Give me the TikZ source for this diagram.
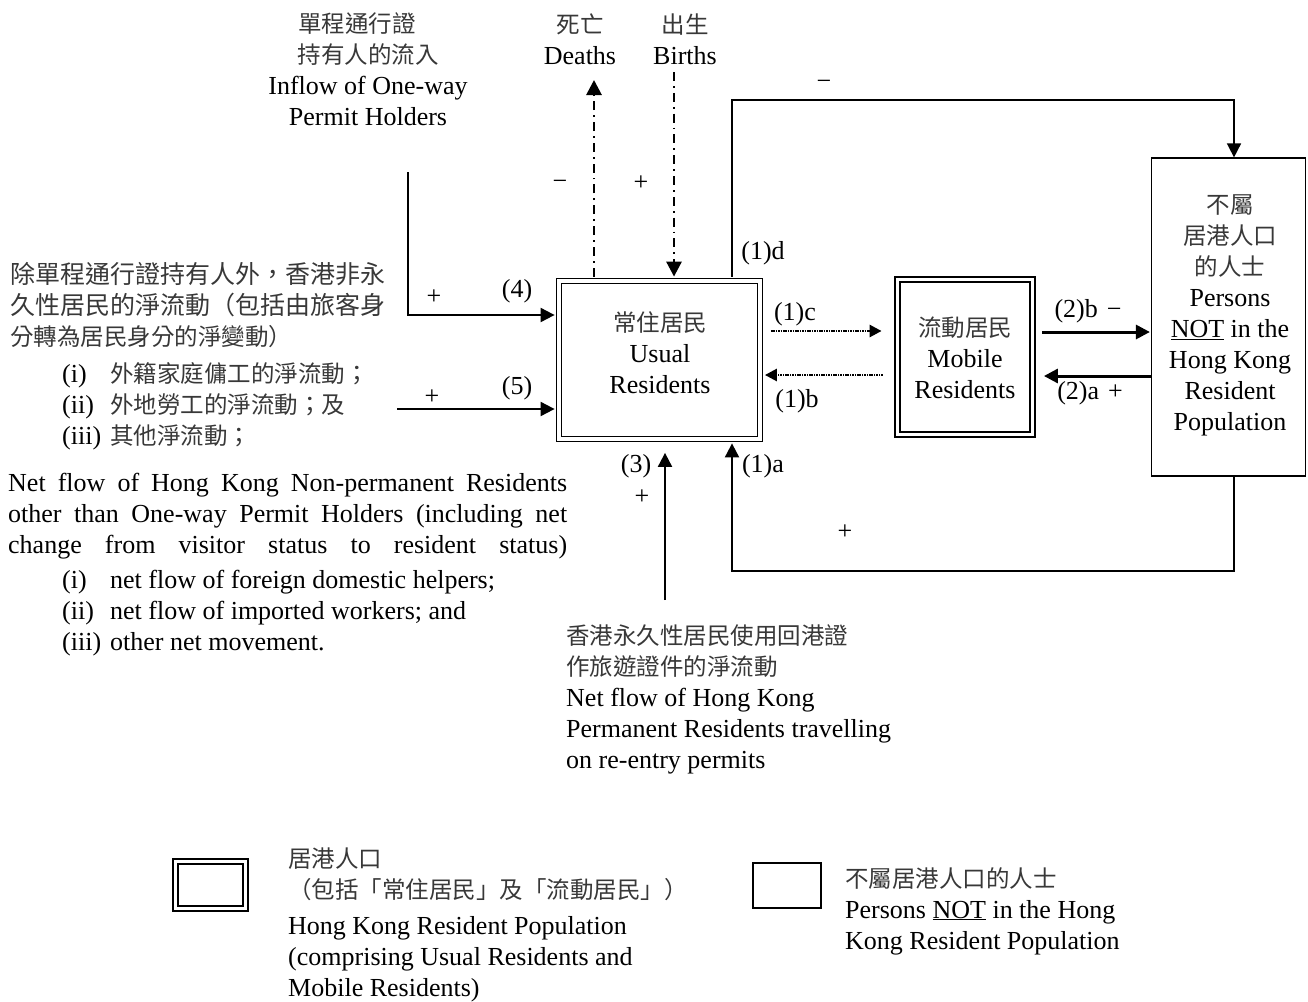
\documentclass[tikz,border=0pt]{standalone}
\usepackage{fontspec}
\setmainfont{Liberation Serif}
\newfontfamily\cjk{Noto Sans CJK TC}
\usetikzlibrary{arrows.meta}
\newcommand\zh[1]{{\cjk\color{black!78}\fontsize{23.5}{31}\selectfont #1}}
\newcommand\zhw[1]{{\cjk\color{black!78}\fontsize{25}{31}\selectfont #1}}
\begin{document}
\begin{tikzpicture}[x=1pt,y=-1pt,
  txt/.style={font=\fontsize{26}{31}\selectfont, inner sep=0pt},
  dbox/.style={draw, double, double distance=3.2pt, line width=1.8pt, inner sep=0pt},
  sbox/.style={draw, line width=1.2pt, inner sep=0pt},
  tip/.style={-{Triangle[length=14pt,width=14pt]}},
  arr/.style={tip, line width=2pt},
  thickarr/.style={tip, line width=3pt},
  dotarr/.style={-{Triangle[length=12pt,width=12pt]}, line width=2.6pt, dash pattern=on 1.6pt off 0.8pt},
  dasharr/.style={-{Triangle[length=15pt,width=15pt]}, line width=2.8pt, dash pattern=on 9pt off 5pt on 1.8pt off 5pt},
  sign/.style={font=\fontsize{26}{26}\selectfont, inner sep=0pt}]
\useasboundingbox (0,0) rectangle (1308,1001);

% main boxes
\node[dbox, minimum width=201pt, minimum height=158pt] (ur) at (659.5,360) {};
\node[dbox, minimum width=135pt, minimum height=155pt] (mr) at (965,357) {};
\node[sbox, minimum width=154pt, minimum height=318pt] (nr) at (1228.5,317) {};

\node[txt, align=center] (urt) at (660,353) {\zh{常住居民}\\Usual\\Residents};
\node[txt, align=center] (mrt) at (965,358) {\zh{流動居民}\\Mobile\\Residents};
\node[txt, align=center] (nrt) at (1230,315) {\zh{不屬}\\ \zh{居港人口}\\ \zh{的人士}\\Persons\\\underline{NOT} in the\\Hong Kong\\Resident\\Population};

% top texts (anchor base = baseline of last line)
\node[txt, align=center, anchor=base] (opw) at (368,125) {\zh{單程通行證}\hspace*{22pt}\\ \zh{持有人的流入}\\ Inflow of One-way\\ Permit Holders};
\node[txt, align=center, anchor=base] (dth) at (580,64) {\zh{死亡}\\Deaths};
\node[txt, align=center, anchor=base] (bth) at (685,64) {\zh{出生}\\Births};

% left texts
\node[txt, align=left, anchor=base west] (nprz) at (10,444) {\zhw{除單程通行證持有人外，香港非永}\\
  \zhw{久性居民的淨流動（包括由旅客身}\\
  \zh{分轉為居民身分的淨變動）}\\[6pt]
  \hspace*{52pt}\makebox[48pt][l]{(i)}\zh{外籍家庭傭工的淨流動；}\\
  \hspace*{52pt}\makebox[48pt][l]{(ii)}\zh{外地勞工的淨流動；及}\\
  \hspace*{52pt}\makebox[48pt][l]{(iii)}\zh{其他淨流動；}};
\node[txt, align=left, anchor=base west] (npre) at (8,650) {\makebox[559pt][s]{Net flow of Hong Kong Non-permanent Residents}\\
  \makebox[559pt][s]{other than One-way Permit Holders (including net}\\
  \makebox[559pt][s]{change from visitor status to resident status)}\\[4pt]
  \hspace*{54pt}\makebox[48pt][l]{(i)}net flow of foreign domestic helpers;\\
  \hspace*{54pt}\makebox[48pt][l]{(ii)}net flow of imported workers; and\\
  \hspace*{54pt}\makebox[48pt][l]{(iii)}other net movement.};

% bottom middle text
\node[txt, align=left, anchor=base west] (pre) at (566,768) {\zh{香港永久性居民使用回港證}\\ \zh{作旅遊證件的淨流動}\\ Net flow of Hong Kong\\ Permanent Residents travelling\\ on re-entry permits};

% coordinates
\coordinate (c4) at (408,172);
\coordinate (c4b) at (408,315);
\coordinate (c5) at (397,409);
\coordinate (c3) at (665,600);
\coordinate (dx) at (594,80);
\coordinate (bx) at (674,72);
\coordinate (lx) at (732,100);
\coordinate (rx) at (1234,100);
\coordinate (lb) at (732,571);
\coordinate (rb) at (1234,571);
\coordinate (yc) at (0,331);
\coordinate (yb) at (0,375);
\coordinate (y2b) at (0,332);
\coordinate (y2a) at (0,376);

% connectors
\draw[arr] (c4) -- (c4b) -- ([xshift=-3.5pt]ur.west |- c4b);
\draw[arr] (c5) -- ([xshift=-3.5pt]ur.west |- c5);
\draw[arr] (c3) -- ([yshift=-13pt]c3 |- ur.south);
\draw[dasharr] ([yshift=3.5pt]dx |- ur.north) -- (dx);
\draw[dasharr] (bx) -- ([yshift=3.5pt]bx |- ur.north);
\draw[line width=1.6pt, tip] ([yshift=3.5pt]lx |- ur.north) -- (lx) -- (rx) -- (rx |- nr.north);
\draw[arr] (rx |- nr.south) -- (rb) -- (lb) -- ([yshift=-3.5pt]lb |- ur.south);
\draw[dotarr] ([xshift=10pt]ur.east |- yc) -- ([xshift=-15pt]mr.west |- yc);
\draw[dotarr] ([xshift=-14pt]mr.west |- yb) -- ([xshift=4pt]ur.east |- yb);
\draw[thickarr] ([xshift=9pt]mr.east |- y2b) -- ([xshift=-1pt]nr.west |- y2b);
\draw[thickarr] (nr.west |- y2a) -- ([xshift=10.5pt]mr.east |- y2a);

% labels
\node[txt] (l4) at (517,291) {(4)};
\node[sign] (p4) at (434,297) {+};
\node[txt] (l5) at (517,388) {(5)};
\node[sign] (p5) at (432,397) {+};
\node[txt] (l1d) at (763,253) {(1)d};
\node[txt] (l1c) at (795,314) {(1)c};
\node[txt] (l1b) at (797,401) {(1)b};
\node[txt] (l1a) at (763,466) {(1)a};
\node[txt] (l3) at (636,466) {(3)};
\node[sign] (p3) at (642,497) {+};
\node[txt] (l2b) at (1088,311) {(2)b\hspace{9pt}−};
\node[txt] (l2a) at (1090,393) {(2)a\hspace{9pt}+};
\node[sign] (mtop) at (824,85) {−};
\node[sign] (pbot) at (845,532) {+};
\node[sign] (mdth) at (560,185) {−};
\node[sign] (pbth) at (641,183) {+};

% legend
\node[dbox, minimum width=70pt, minimum height=47pt] (lg1) at (210.5,885) {};
\node[sbox, minimum width=68pt, minimum height=45pt] (lg2) at (787,885.5) {};
\node[txt, align=left, anchor=base west] (lg1t) at (288,996) {\zh{居港人口}\\ \zh{（包括「常住居民」及「流動居民」）}\\[5pt] Hong Kong Resident Population\\ (comprising Usual Residents and\\ Mobile Residents)};
\node[txt, align=left, anchor=base west] (lg2t) at (845,949) {\zh{不屬居港人口的人士}\\ Persons \underline{NOT} in the Hong\\ Kong Resident Population};
\end{tikzpicture}
\end{document}
